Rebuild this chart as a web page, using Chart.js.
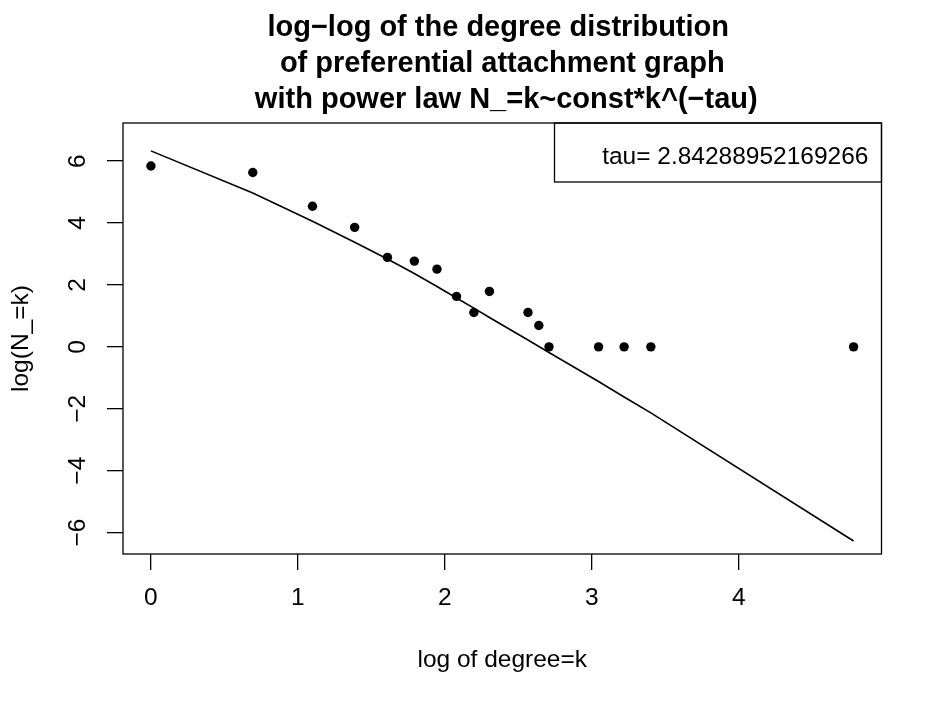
<!DOCTYPE html>
<html>
<head>
<meta charset="utf-8">
<script src="https://cdn.jsdelivr.net/npm/chart.js@4.4.1/dist/chart.umd.min.js"></script>
<style>
  html, body { margin: 0; padding: 0; background: #fff; }
  canvas { display: block; }
</style>
</head>
<body>
<canvas id="degreeChart" width="944" height="709"></canvas>
<script>
// log(k) and log(N_k)
var logDegree = [0, 0.693, 1.099, 1.386, 1.609, 1.792, 1.946, 2.079, 2.197, 2.303, 2.565, 2.639, 2.708, 3.045, 3.219, 3.401, 4.78];
var logCount = [5.84, 5.63, 4.54, 3.86, 2.89, 2.77, 2.51, 1.63, 1.11, 1.79, 1.11, 0.69, 0, 0, 0, 0, 0];
// fitted curve at the same x values
var fitLogCount = [6.33, 4.97, 4.06, 3.38, 2.84, 2.37, 1.95, 1.58, 1.25, 0.95, 0.22, 0.01, -0.18, -1.12, -1.62, -2.13, -6.27];

var xTicks = [0, 1, 2, 3, 4];
var yTicks = [-6, -4, -2, 0, 2, 4, 6];

var titleLines = ['log\u2212log of the degree distribution ', ' of preferential attachment graph ', ' with power law N_=k~const*k^(\u2212tau)'];
var legendText = 'tau= 2.84288952169266';
var xLabel = 'log of degree=k';
var yLabel = 'log(N_=k)';

var FONT = '"Liberation Sans", Arial, Helvetica, sans-serif';
Chart.defaults.font.family = FONT;
Chart.defaults.color = '#000';

function minusLabel(v) {
    return v < 0 ? '\u2212' + Math.abs(v) : String(v);
}

// box, rotated y labels, title and the legend box, R style
var rPlotExtras = {
    id: 'rPlotExtras',
    afterDraw: function (chart) {
        var ctx = chart.ctx;
        var area = chart.chartArea;
        var yScale = chart.scales.y;
        ctx.save();
        ctx.strokeStyle = '#000';
        ctx.fillStyle = '#000';
        ctx.lineWidth = 1.3;
        ctx.strokeRect(area.left, area.top, area.right - area.left, area.bottom - area.top);

        ctx.font = '24.5px ' + FONT;
        ctx.textAlign = 'center';
        ctx.textBaseline = 'middle';
        yScale.ticks.forEach(function (t) {
            var py = yScale.getPixelForValue(t.value);
            ctx.save();
            ctx.translate(area.left - 45, py);
            ctx.rotate(-Math.PI / 2);
            ctx.fillText(minusLabel(t.value), 0, 0);
            ctx.restore();
        });

        ctx.font = 'bold 29px ' + FONT;
        ctx.textBaseline = 'alphabetic';
        var cx = (area.left + area.right) / 2;
        titleLines.forEach(function (line, i) {
            ctx.fillText(line, cx, 36 + i * 36);
        });

        var boxLeft = area.right - 327;
        var boxBottom = area.top + 59;
        ctx.strokeRect(boxLeft, area.top, area.right - boxLeft, boxBottom - area.top);
        ctx.font = '24.5px ' + FONT;
        ctx.textAlign = 'right';
        ctx.fillText(legendText, area.right - 13, area.top + 41);
        ctx.restore();
    }
};

var tickGrid = { drawOnChartArea: false, drawTicks: true, tickLength: 16, color: '#000', lineWidth: 1.3 };

new Chart(document.getElementById('degreeChart'), {
    type: 'scatter',
    data: {
        datasets: [{
            label: 'observed',
            data: logDegree.map(function (x, i) { return { x: x, y: logCount[i] }; }),
            pointRadius: 4.7,
            pointBackgroundColor: '#000',
            pointBorderWidth: 0,
            showLine: false
        }, {
            label: 'fit',
            data: logDegree.map(function (x, i) { return { x: x, y: fitLogCount[i] }; }),
            showLine: true,
            pointRadius: 0,
            borderColor: '#000',
            borderWidth: 1.6,
            tension: 0,
            fill: false
        }]
    },
    options: {
        responsive: false,
        animation: false,
        devicePixelRatio: 1,
        layout: { padding: { top: 123, right: 62.5, bottom: 0, left: 0 } },
        plugins: {
            legend: { display: false },
            title: { display: false },
            tooltip: { enabled: false }
        },
        scales: {
            x: {
                type: 'linear',
                min: -0.19,
                max: 4.97,
                afterBuildTicks: function (s) { s.ticks = xTicks.map(function (v) { return { value: v }; }); },
                afterFit: function (s) { s.height = 155; },
                grid: tickGrid,
                border: { display: false },
                ticks: { color: '#000', font: { size: 24.5 }, padding: 14, maxRotation: 0, autoSkip: false },
                title: { display: true, text: xLabel, color: '#000', font: { size: 24.5 }, padding: { top: 0, bottom: 34 } }
            },
            y: {
                type: 'linear',
                min: -6.69,
                max: 7.23,
                afterBuildTicks: function (s) { s.ticks = yTicks.map(function (v) { return { value: v }; }); },
                afterFit: function (s) { s.width = 123; },
                grid: tickGrid,
                border: { display: false },
                ticks: { display: false },
                title: { display: true, text: yLabel, color: '#000', font: { size: 24.5 }, padding: { top: 7, bottom: 0 } }
            }
        }
    },
    plugins: [rPlotExtras]
});
</script>
</body>
</html>
